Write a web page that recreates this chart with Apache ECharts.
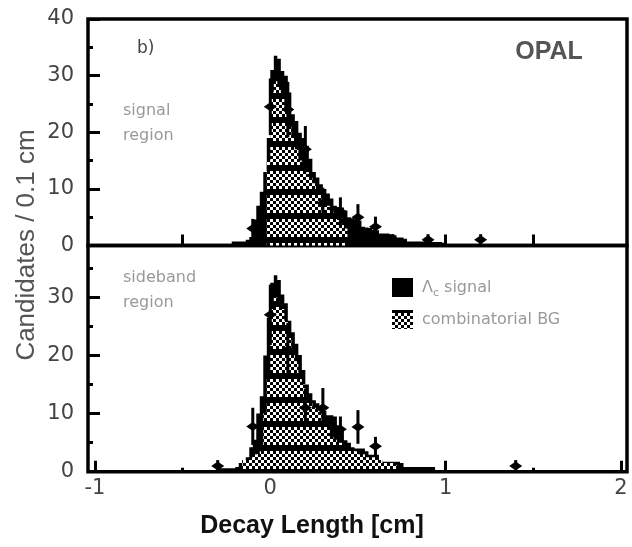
<!DOCTYPE html>
<html>
<head>
<meta charset="utf-8">
<script src="https://cdn.jsdelivr.net/npm/echarts@6/dist/echarts.min.js"></script>
<style>
  html, body { margin: 0; padding: 0; background: #fff; }
  #chart { width: 632px; height: 547px; }
</style>
</head>
<body>
<div id="chart"></div>
<script>
// Decay-length distributions, histogram bins of 0.02 cm
const binWidth = 0.02;

// signal region (upper panel)
const topFirstBin = -0.22;
const topTotal = [
  0.7, 0.7, 0.7, 0.7, 1.0, 1.5, 4.6, 7, 9.5, 13, 19,
  31, 33.5, 33, 30.8, 30, 27, 23.2, 22, 19.9, 19,
  17.6, 15.3, 13, 12, 10.8, 10, 9.2, 8.3, 7.0, 6.8,
  6.7, 6.2, 5.0, 4.8, 4.6, 4.4, 3.3, 3.2, 3.1, 2.8,
  2.7, 2.1, 2.1, 2.1, 2.0, 1.8, 1.4, 1.4, 1.2, 0.7,
  0.7, 0.7, 0.7, 0.7, 0.7, 0.7, 0.6, 0.6, 0.6, 0.5
];
const topBg = [
  0, 0, 0, 0, 0, 0, 0, 0, 0, 0, 15,
  27, 29, 28, 26, 24, 21, 19, 17, 15, 14,
  13, 12, 11, 10, 9, 8, 7, 6, 5, 4.5,
  4, 3, 0, 0, 0, 0, 0, 0, 0, 0,
  0, 0, 0, 0, 0, 0, 0, 0, 0, 0,
  0, 0, 0, 0, 0, 0, 0, 0, 0, 0
];

// sideband region (lower panel)
const botFirstBin = -0.30;
const botTotal = [
  0.6, 0.6, 0.6, 0.6, 0.6, 0.8, 1.5, 2, 2.5, 4.2, 5.5, 10, 13, 20, 26.5,
  32.5, 33.8, 33, 30.5, 29, 26, 24, 22, 20.1, 17.5,
  15, 13.5, 12.3, 11.8, 11.1, 10.5, 9.7, 9.7, 9.5, 8,
  7.5, 5.4, 5, 4.2, 4, 4, 4, 3.5, 2.9, 2.9,
  2.9, 2, 1.7, 1.7, 1.7, 1.7, 1.7, 1.5, 0.8, 0.8,
  0.8, 0.8, 0.8, 0.8, 0.8, 0.8, 0.8, 0.3, 0.3, 0.3
];
const botBg = [
  0, 0, 0, 0, 0, 0, 0, 2, 2, 2.5, 3, 3, 3.5, 10, 17,
  28, 30, 29, 28, 26, 23, 21, 19, 17, 15,
  13, 12, 11, 10.5, 10, 9, 8, 6, 5.5, 5,
  5, 4.5, 4, 4, 3.5, 3, 3, 2.5, 2.5, 2.5,
  2, 2, 1.5, 1.5, 1.5, 1.2, 0, 0, 0, 0,
  0, 0, 0, 0, 0, 0, 0, 0, 0, 0
];

// measured candidates per 0.1 cm with statistical errors
const topPtsX   = [-0.1, 0.0, 0.1, 0.2, 0.3, 0.4, 0.5, 0.6, 0.7, 0.9, 1.2];
const topPtsY   = [3, 24.5, 24, 17, 7.5, 6, 5, 3.3, 1, 1, 1];
const topPtsErr = [1.7, 5, 4.9, 4.1, 2.7, 2.5, 2.3, 1.8, 1, 1, 1];

const botPtsX   = [-0.3, -0.1, 0.0, 0.1, 0.2, 0.3, 0.4, 0.5, 0.6, 1.4];
const botPtsY   = [1, 7.8, 27, 21, 11, 11, 7.3, 7.7, 4.4, 1];
const botPtsErr = [1, 3.2, 5.2, 4.6, 3.3, 3.4, 2.2, 2.9, 1.6, 1];

// axis ticks and labels
const xRange = [-1.04, 2.035];
const xMajor = [-1, 0, 1, 2];
const xMinor = [-0.5, 0.5, 1.5];
const topXTicks = [-0.5, 0, 0.5, 1, 1.5];
const topYMajor = [0, 10, 20, 30, 40];
const botYMajor = [0, 10, 20, 30];
const yMinor = [5, 15, 25, 35];
const topYMax = 40;
const botYMax = 38.93;

// fill used for the combinatorial background (checker with horizontal banding)
function checkerCanvas(phase) {
  const c = document.createElement('canvas');
  c.width = 6; c.height = 24;
  const g = c.getContext('2d');
  g.fillStyle = '#000';
  g.fillRect(0, 0, 6, 24);
  g.fillStyle = '#fff';
  for (let r = 0; r < 24; r++) {
    const k = ((r - phase) % 24 + 24) % 24;
    if (k >= 18) continue;
    const cy = Math.floor(k / 3);
    for (let cx = 0; cx < 2; cx++) {
      if ((cx + cy) % 2 === 0) g.fillRect(cx * 3, r, 3, 1);
    }
  }
  return c;
}
const topChecker = { image: checkerCanvas(3), repeat: 'repeat' };
const botChecker = { image: checkerCanvas(19), repeat: 'repeat' };

// step-outline polygon of a histogram, built through the axis scales
function histSeries(name, gridIdx, first, values, fill) {
  return {
    type: 'custom',
    name: name,
    xAxisIndex: gridIdx === 0 ? 0 : 1,
    yAxisIndex: gridIdx === 0 ? 0 : 2,
    itemStyle: { color: fill },
    data: [[first, 0]],
    silent: true,
    renderItem: function (params, api) {
      const pts = [api.coord([first, 0])];
      values.forEach(function (h, i) {
        const x0 = first + i * binWidth;
        pts.push(api.coord([x0, h]));
        pts.push(api.coord([x0 + binWidth, h]));
      });
      pts.push(api.coord([first + values.length * binWidth, 0]));
      return { type: 'polygon', shape: { points: pts }, style: { fill: fill, stroke: null } };
    }
  };
}

function pointSeries(gridIdx, xs, ys, errs) {
  return {
    type: 'custom',
    name: 'data',
    xAxisIndex: gridIdx === 0 ? 0 : 1,
    yAxisIndex: gridIdx === 0 ? 0 : 2,
    data: xs.map(function (x, i) { return [x, ys[i], errs[i]]; }),
    silent: true,
    renderItem: function (params, api) {
      const x = api.value(0), y = api.value(1), e = api.value(2);
      const lo = api.coord([x, Math.max(0, y - e)]);
      const hi = api.coord([x, y + e]);
      const c = api.coord([x, y]);
      return {
        type: 'group',
        children: [
          { type: 'line', shape: { x1: lo[0], y1: lo[1], x2: hi[0], y2: hi[1] },
            style: { stroke: '#000', lineWidth: 3 } },
          { type: 'polygon', shape: { points: [[c[0] - 6.5, c[1]], [c[0], c[1] - 4.5], [c[0] + 6.5, c[1]], [c[0], c[1] + 4.5]] },
            style: { fill: '#000' } }
        ]
      };
    }
  };
}

const labelFont = { fontFamily: 'DejaVu Sans', fontSize: 21, color: '#444' };
const tickStyle = { color: '#000', width: 3 };

function xAxisCfg(grid, ticks, len, labels) {
  return {
    type: 'value', gridIndex: grid, min: xRange[0], max: xRange[1], position: 'bottom',
    axisLine: { show: false, onZero: false }, splitLine: { show: false },
    axisTick: { show: true, inside: true, length: len, lineStyle: tickStyle, customValues: ticks },
    axisLabel: labels ? Object.assign({ show: true, margin: 6, customValues: labels }, labelFont) : { show: false }
  };
}
function yAxisCfg(grid, max, ticks, len, labels) {
  return {
    type: 'value', gridIndex: grid, min: 0, max: max, position: 'left', offset: 0,
    axisLine: { show: false, onZero: false }, splitLine: { show: false },
    axisTick: { show: true, inside: true, length: len, lineStyle: tickStyle, customValues: ticks },
    axisLabel: labels ? Object.assign({ show: true, margin: 14, customValues: labels }, labelFont) : { show: false }
  };
}

const smallText = { fontFamily: 'DejaVu Sans', fontSize: 16, fill: '#999' };
function note(text, x, y, extra) {
  return { type: 'text', x: x, y: y, silent: true,
    style: Object.assign({ text: text, verticalAlign: 'middle', align: 'left' }, smallText, extra || {}) };
}

const chart = echarts.init(document.getElementById('chart'), null, { renderer: 'canvas' });
chart.setOption({
  animation: false,
  backgroundColor: '#fff',
  grid: [
    { left: 88, right: 5, top: 19, height: 226.5, show: true, borderColor: '#000', borderWidth: 3.5, backgroundColor: 'transparent' },
    { left: 88, right: 5, top: 245.5, height: 226.2, show: true, borderColor: '#000', borderWidth: 3.5, backgroundColor: 'transparent' }
  ],
  xAxis: [
    xAxisCfg(0, topXTicks, 11, null),
    xAxisCfg(1, xMajor, 11, xMajor),
    xAxisCfg(1, xMinor, 4, null)
  ],
  yAxis: [
    yAxisCfg(0, topYMax, topYMajor, 12, topYMajor),
    yAxisCfg(0, topYMax, yMinor, 5, null),
    yAxisCfg(1, botYMax, botYMajor, 12, botYMajor),
    yAxisCfg(1, botYMax, yMinor, 5, null)
  ],
  legend: {
    orient: 'vertical', left: 392, top: 278, padding: 0, itemWidth: 21, itemHeight: 19, itemGap: 11,
    selectedMode: false,
    itemStyle: { borderWidth: 0 },
    data: [{ name: 'Λc signal', icon: 'rect' }, { name: 'combinatorial BG', icon: 'rect' }],
    formatter: function (name) {
      return name === 'Λc signal' ? '{a|Λ}{s|c}{a| signal}' : '{a|' + name + '}';
    },
    textStyle: {
      padding: [0, 0, 0, 4],
      rich: {
        a: { fontFamily: 'DejaVu Sans', fontSize: 16, color: '#999' },
        s: { fontFamily: 'DejaVu Sans', fontSize: 11, color: '#999', padding: [12, 0, 0, 0] }
      }
    }
  },
  series: [
    histSeries('Λc signal', 0, topFirstBin, topTotal, '#000'),
    histSeries('combinatorial BG', 0, topFirstBin, topBg, topChecker),
    pointSeries(0, topPtsX, topPtsY, topPtsErr),
    histSeries('Λc signal', 1, botFirstBin, botTotal, '#000'),
    histSeries('combinatorial BG', 1, botFirstBin, botBg, botChecker),
    pointSeries(1, botPtsX, botPtsY, botPtsErr)
  ],
  graphic: [
    { type: 'text', x: 27, y: 245, rotation: Math.PI / 2, silent: true,
      style: { text: 'Candidates / 0.1 cm', fontFamily: 'Liberation Sans', fontSize: 26, fill: '#555', align: 'center', verticalAlign: 'middle' } },
    { type: 'text', x: 312, y: 526, silent: true,
      style: { text: 'Decay Length [cm]', fontFamily: 'Liberation Sans', fontSize: 25, fontWeight: 'bold', fill: '#111', align: 'center', verticalAlign: 'middle' } },
    { type: 'text', x: 549, y: 52, silent: true,
      style: { text: 'OPAL', fontFamily: 'Liberation Sans', fontSize: 25, fontWeight: 'bold', fill: '#555', align: 'center', verticalAlign: 'middle' } },
    note('b)', 137, 49, { fill: '#444', fontSize: 17 }),
    note('signal', 123, 111),
    note('region', 123, 136),
    note('sideband', 123, 278),
    note('region', 123, 303)
  ]
});
</script>
</body>
</html>
